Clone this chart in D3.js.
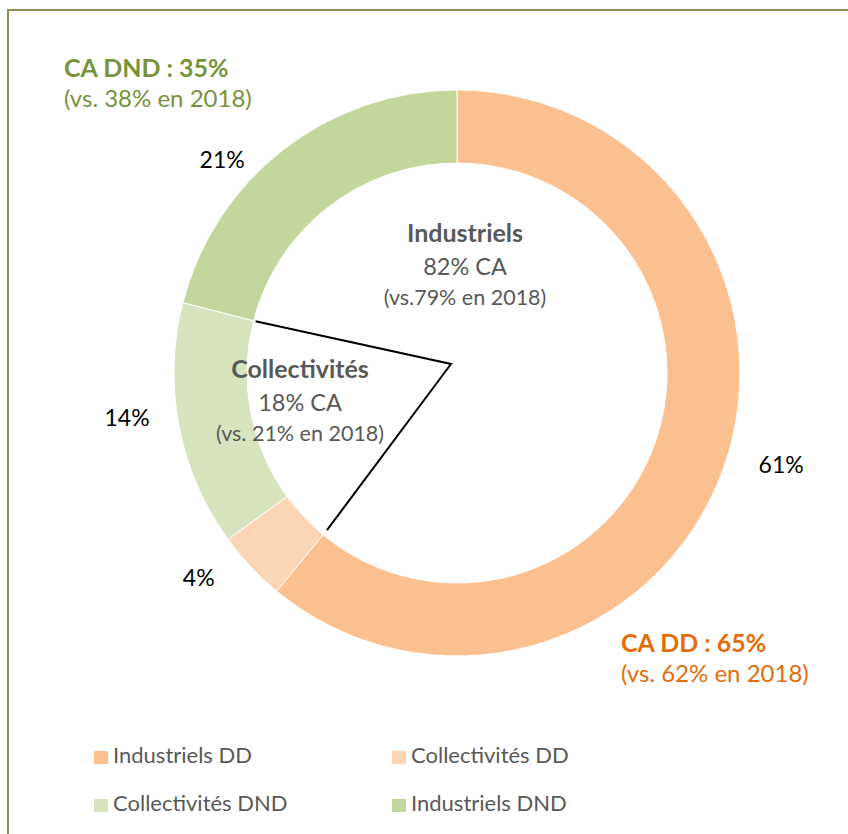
<!DOCTYPE html>
<meta charset="utf-8">
<style>
html, body {
  margin: 0;
  background-color: white;
}
svg text {
  font-family: Lato, "Open Sans", sans-serif;
}
.slice {
  stroke: #fff;
  stroke-width: 1px;
}
.pct {
  fill: #000;
  font-size: 23px;
}
.legend text {
  fill: #595959;
  font-size: 22px;
}
.inner {
  fill: #595959;
  text-anchor: middle;
}
</style>
<svg width="848" height="834"></svg>
<script src="https://d3js.org/d3.v7.min.js"></script>
<script>
// values
var categories = ["Industriels DD", "Collectivités DD", "Collectivités DND", "Industriels DND"];
var shares = [61, 4, 14, 21];
var colors = ["#FAC090", "#FCD5B5", "#D7E4BD", "#C3D69B"];

// 2018 figures quoted in the annotations
var prevDD = 62, prevDND = 38;
var groupNames = ["Industriels", "Collectivités"];
var groupPrev = ["(vs.79% en 2018)", "(vs. 21% en 2018)"];

var svg = d3.select("svg"),
    cx = 457, cy = 373,
    outerR = 283, innerR = 210;

// frame
svg.append("rect")
    .attr("x", 8).attr("y", 10)
    .attr("width", 900).attr("height", 900)
    .attr("fill", "none")
    .attr("stroke", "#948A54")
    .attr("stroke-width", 2);

var pie = d3.pie().sort(null).value(function(d) { return d; });
var arcs = pie(shares);
var arc = d3.arc().innerRadius(innerR).outerRadius(outerR);

var g = svg.append("g")
    .attr("transform", "translate(" + cx + "," + cy + ")");

g.selectAll(".slice")
    .data(arcs)
  .enter().append("path")
    .attr("class", "slice")
    .attr("fill", function(d, i) { return colors[i]; })
    .attr("d", arc);

// percentage labels, nudged a little like the original
var labelR = [337, 330, 333, 317];
var labelNudge = [-3.9, 4.7, 3, -10];
g.selectAll(".pct")
    .data(arcs)
  .enter().append("text")
    .attr("class", "pct")
    .attr("text-anchor", "middle")
    .attr("dy", "0.35em")
    .attr("transform", function(d, i) {
        var a = (d.startAngle + d.endAngle) / 2 + labelNudge[i] * Math.PI / 180;
        return "translate(" + (labelR[i] * Math.sin(a)) + "," + (-labelR[i] * Math.cos(a)) + ")";
    })
    .text(function(d) { return d.data + "%"; });

// bracket round the Collectivités slices
var a0 = arcs[1].startAngle, a1 = arcs[2].endAngle;
var tip = [-6, -9];
var pts = [
    [(innerR - 2) * Math.sin(a1), -(innerR - 2) * Math.cos(a1)],
    tip,
    [(innerR - 6) * Math.sin(a0), -(innerR - 6) * Math.cos(a0)]
];
g.append("path")
    .attr("d", d3.line()(pts))
    .attr("fill", "none")
    .attr("stroke", "#000")
    .attr("stroke-width", 2);

// inner annotations
var indus = shares[0] + shares[3], coll = shares[1] + shares[2];
var groupVals = [indus, coll];
var groupPos = [[8, -131], [-157, 5]];
groupNames.forEach(function(name, i) {
    var t = g.append("text")
        .attr("class", "inner")
        .attr("x", groupPos[i][0])
        .attr("y", groupPos[i][1]);
    t.append("tspan")
        .attr("x", groupPos[i][0])
        .style("font-weight", "bold")
        .style("font-size", "25px")
        .text(name);
    t.append("tspan")
        .attr("x", groupPos[i][0]).attr("dy", 33)
        .style("font-size", "23.5px")
        .text(groupVals[i] + "% CA");
    t.append("tspan")
        .attr("x", groupPos[i][0]).attr("dy", 30)
        .style("font-size", "21.5px")
        .text(groupPrev[i]);
});

// DD / DND totals
var dd = shares[0] + shares[1], dnd = shares[2] + shares[3];
function total(x, y, color, head, sub) {
    svg.append("text")
        .attr("x", x).attr("y", y)
        .attr("fill", color)
        .style("font-size", "25px")
        .style("font-weight", "bold")
        .text(head);
    svg.append("text")
        .attr("x", x).attr("y", y + 30)
        .attr("fill", color)
        .style("font-size", "24px")
        .text(sub);
}
total(64, 77, "#77933C", "CA DND : " + dnd + "%", "(vs. " + prevDND + "% en 2018)");
total(621, 652, "#E46C0A", "CA DD : " + dd + "%", "(vs. " + prevDD + "% en 2018)");

// legend, two columns
var legend = svg.append("g").attr("class", "legend")
    .selectAll("g")
    .data(categories)
  .enter().append("g")
    .attr("transform", function(d, i) {
        return "translate(" + (94 + (i % 2) * 298) + "," + (751 + Math.floor(i / 2) * 48) + ")";
    });

legend.append("rect")
    .attr("width", 14).attr("height", 13)
    .attr("fill", function(d, i) { return colors[i]; });

legend.append("text")
    .attr("x", 19).attr("y", 12)
    .text(function(d) { return d; });
</script>
